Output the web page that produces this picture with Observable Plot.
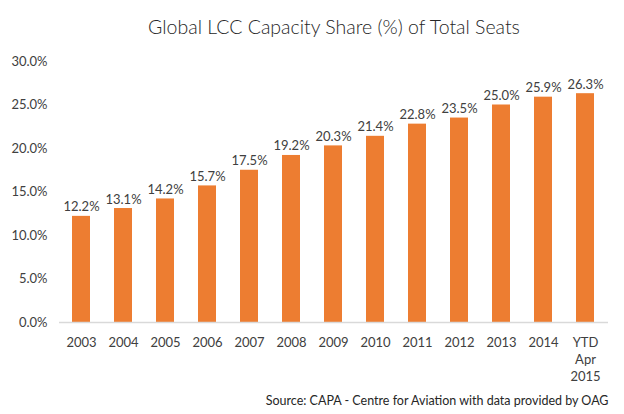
<!DOCTYPE html>
<html><head><meta charset="utf-8">
<script src="https://cdn.jsdelivr.net/npm/d3@7"></script>
<script src="https://cdn.jsdelivr.net/npm/@observablehq/plot@0.6"></script>
<style>body{margin:0;background:#fff;} svg{display:block;}</style>
</head><body><div id="chart"></div>
<script>
const categories = ["2003","2004","2005","2006","2007","2008","2009","2010","2011","2012","2013","2014","YTD\nApr\n2015"];
const shares = [12.2,13.1,14.2,15.7,17.5,19.2,20.3,21.4,22.8,23.5,25.0,25.9,26.3];
const yTicks = [0,5,10,15,20,25,30];
const titleText = "Global LCC Capacity Share (%) of Total Seats";
const sourceText = "Source: CAPA - Centre for Aviation with data provided by OAG";

const data = categories.map((c,i)=>({cat:c, v:shares[i]}));
const font = "Lato, 'Open Sans', sans-serif";
const chart = Plot.plot({
  width: 624, height: 414,
  marginLeft: 59, marginRight: 16, marginTop: 61, marginBottom: 92,
  style: {fontFamily: font, fontSize: "13px", color: "#404040", background: "#fff"},
  x: {domain: categories, paddingInner: 0.57, paddingOuter: 0.285, label: null},
  y: {domain: [0,30], label: null},
  marks: [
    Plot.barY(data, {x: "cat", y: "v", fill: "#ED7D31"}),
    Plot.ruleY([0], {stroke: "#d9d9d9", strokeWidth: 1.5}),
    Plot.axisX({tickSize: 0, tickPadding: 12, lineHeight: 1.32, fontSize: 13, fill: "#404040"}),
    Plot.axisY({ticks: yTicks, tickFormat: d => d.toFixed(1) + "%", tickSize: 0, tickPadding: 12, fontSize: 13, fill: "#404040"}),
    Plot.text(data, {x: "cat", y: "v", text: d => d.v.toFixed(1) + "%", lineAnchor: "bottom", dy: -5, fill: "#404040", fontSize: 13}),
    Plot.text([titleText], {frameAnchor: "top", dy: -34, fontSize: 19.5, fontWeight: 300, fill: "#262626", lineAnchor: "middle"}),
    Plot.text([sourceText], {frameAnchor: "bottom-right", dy: 78, dx: 0, textAnchor: "end", fontSize: 12.5, fill: "#262626", lineAnchor: "middle"})
  ]
});
document.getElementById("chart").appendChild(chart);
</script></body></html>
